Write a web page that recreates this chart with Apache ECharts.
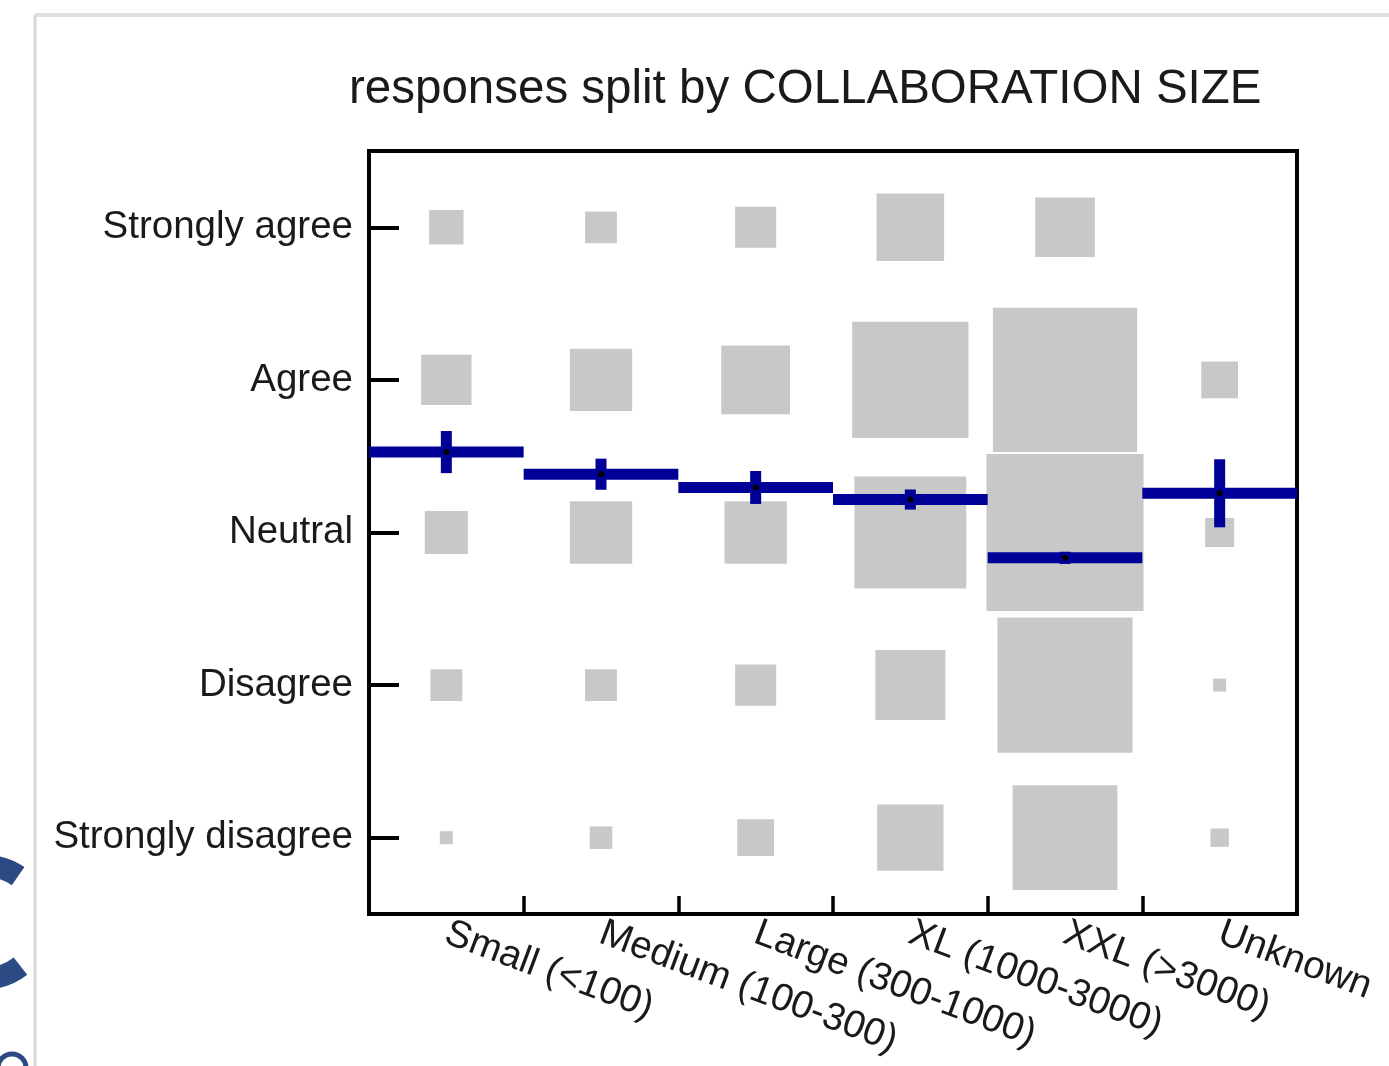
<!DOCTYPE html>
<html>
<head>
<meta charset="utf-8">
<title>responses split by COLLABORATION SIZE</title>
<script src="https://cdn.jsdelivr.net/npm/echarts@6/dist/echarts.min.js"></script>
<style>
  html, body { margin: 0; padding: 0; background: #ffffff; }
  #chart { width: 1389px; height: 1066px; }
</style>
</head>
<body>
<div id="chart"></div>
<script>
// Collaboration size groups along the x axis
const sizeCategories = ['Small (<100)', 'Medium (100-300)', 'Large (300-1000)', 'XL (1000-3000)', 'XXL (>3000)', 'Unknown'];
// Answer scale, bottom to top (value 1 .. 5)
const responseLevels = ['Strongly disagree', 'Disagree', 'Neutral', 'Agree', 'Strongly agree'];

// Number of responses per size group, one array per answer
const countsStronglyDisagree = [1, 3, 8, 26, 65, 2];
const countsDisagree         = [6, 6, 10, 29, 108, 1];
const countsNeutral          = [11, 23, 23, 74, 146, 5];
const countsAgree            = [15, 23, 28, 80, 123, 8];
const countsStronglyAgree    = [7, 6, 10, 27, 21, 0];

// Mean answer per size group and its uncertainty
const meanResponse = [3.527, 3.382, 3.295, 3.216, 2.834, 3.257];
const meanError    = [0.138, 0.102, 0.108, 0.066, 0.040, 0.223];

const GREY = '#c8c8c8';
const BLUE = '#000096';
const INK = '#1a1a1a';
const FONT = '"Liberation Sans", Arial, Helvetica, sans-serif';
// square side = row height * SQUARE_UNIT * sqrt(count), so area follows the count
const SQUARE_UNIT = 0.0852;

const countsByLevel = [countsStronglyDisagree, countsDisagree, countsNeutral, countsAgree, countsStronglyAgree];
const squareData = [];
countsByLevel.forEach(function (row, li) {
  row.forEach(function (n, ci) {
    if (n > 0) squareData.push([ci, li + 1, n]);
  });
});
const meanData = meanResponse.map(function (m, ci) { return [ci, m, meanError[ci]]; });

const chart = echarts.init(document.getElementById('chart'), null, { renderer: 'canvas' });

const option = {
  backgroundColor: '#ffffff',
  animation: false,
  title: {
    text: 'responses split by COLLABORATION SIZE',
    left: 349,
    top: 66,
    padding: 0,
    textStyle: { fontFamily: FONT, fontSize: 47.5, fontWeight: 'normal', color: INK }
  },
  grid: {
    left: 369, right: 92, top: 151, bottom: 152,
    containLabel: false,
    outerBoundsMode: 'none',
    show: true,
    borderColor: '#000000',
    borderWidth: 4,
    backgroundColor: 'transparent'
  },
  xAxis: {
    type: 'category',
    data: sizeCategories,
    boundaryGap: true,
    axisLine: { show: true, lineStyle: { color: '#000000', width: 4 } },
    axisTick: { show: true, inside: true, length: 18, alignWithLabel: false, lineStyle: { color: '#000000', width: 3.5 } },
    axisLabel: {
      interval: 0,
      hideOverlap: false,
      rotate: -20.5,
      margin: 18,
      fontFamily: FONT,
      fontSize: 38.5,
      color: INK
    },
    splitLine: { show: false }
  },
  yAxis: [
    {
      type: 'category',
      data: responseLevels,
      boundaryGap: true,
      position: 'left',
      axisLine: { show: true, lineStyle: { color: '#000000', width: 4 } },
      axisTick: { show: true, inside: true, alignWithLabel: true, length: 30, lineStyle: { color: '#000000', width: 4 } },
      axisLabel: { interval: 0, margin: 16, fontFamily: FONT, fontSize: 38.5, color: INK },
      splitLine: { show: false }
    },
    {
      type: 'value',
      min: 0.5,
      max: 5.5,
      show: false,
      position: 'left',
      splitLine: { show: false }
    }
  ],
  series: [
    {
      name: 'responses',
      type: 'custom',
      xAxisIndex: 0,
      yAxisIndex: 1,
      data: squareData,
      z: 2,
      renderItem: function (params, api) {
        const c = api.coord([api.value(0), api.value(1)]);
        const rowH = api.size([0, 1])[1];
        const side = rowH * SQUARE_UNIT * Math.sqrt(api.value(2));
        return {
          type: 'rect',
          shape: { x: c[0] - side / 2, y: c[1] - side / 2, width: side, height: side },
          style: { fill: GREY }
        };
      }
    },
    {
      name: 'mean',
      type: 'custom',
      xAxisIndex: 0,
      yAxisIndex: 1,
      data: meanData,
      z: 3,
      renderItem: function (params, api) {
        const ci = api.value(0), m = api.value(1), e = api.value(2);
        const c = api.coord([ci, m]);
        const hi = api.coord([ci, m + e]);
        const lo = api.coord([ci, m - e]);
        const w = api.size([1, 0])[0];
        return {
          type: 'group',
          children: [
            { type: 'rect', shape: { x: c[0] - w / 2, y: c[1] - 5.5, width: w, height: 11 }, style: { fill: BLUE } },
            { type: 'rect', shape: { x: c[0] - 5.5, y: hi[1], width: 11, height: lo[1] - hi[1] }, style: { fill: BLUE } },
            { type: 'circle', shape: { cx: c[0], cy: c[1], r: 3 }, style: { fill: '#000000' } }
          ]
        };
      }
    }
  ],
  graphic: [
    // slide frame
    { type: 'line', silent: true, z: -1, shape: { x1: 35, y1: 15, x2: 1389, y2: 15 }, style: { stroke: '#dde1e1', lineWidth: 4 } },
    { type: 'line', silent: true, z: -1, shape: { x1: 35, y1: 15, x2: 35, y2: 1066 }, style: { stroke: '#d6d9d9', lineWidth: 3 } },
    // logo pieces at the page edge
    { type: 'arc', silent: true, shape: { cx: -14, cy: 922, r: 56, startAngle: 52 * Math.PI / 180, endAngle: 305 * Math.PI / 180, clockwise: true }, style: { stroke: '#2c4a84', lineWidth: 22, fill: null, lineCap: 'butt' } },
    { type: 'circle', silent: true, shape: { cx: 12, cy: 1068, r: 14 }, style: { stroke: '#2c4a84', lineWidth: 5, fill: null } }
  ]
};

chart.setOption(option);
</script>
</body>
</html>
